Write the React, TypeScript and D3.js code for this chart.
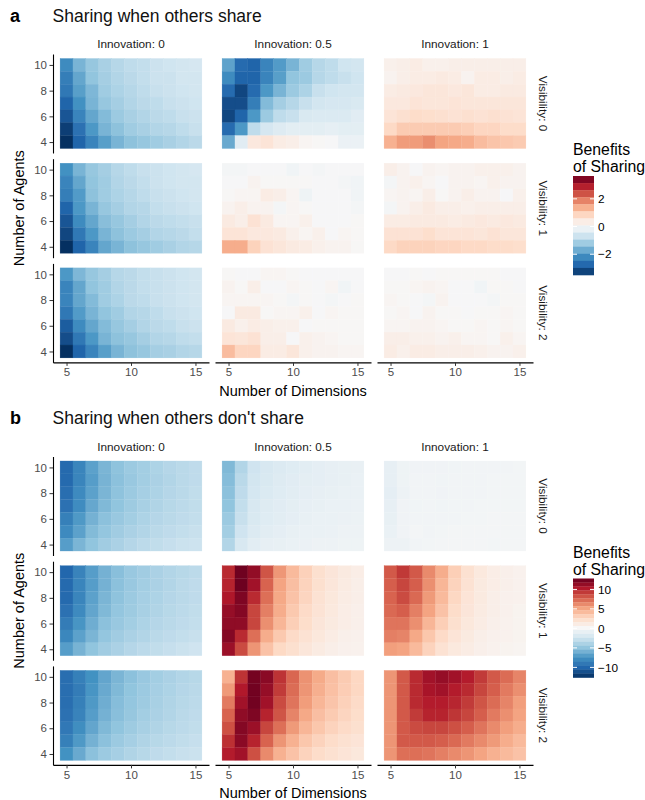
import * as d3 from 'd3';
import React, { useEffect, useRef } from 'react';

// grid of the heatmaps
const dimensions = [5, 6, 7, 8, 9, 10, 11, 12, 13, 14, 15];
const agents = [10, 9, 8, 7, 6, 5, 4]; // rows, top to bottom
const innovationLabels = ['Innovation: 0', 'Innovation: 0.5', 'Innovation: 1'];
const visibilityLabels = ['Visibility: 0', 'Visibility: 1', 'Visibility: 2'];
const xTicks = [5, 10, 15];
const yTicks = [4, 6, 8, 10];

// a) sharing when others share
const shareI0V0 = [
  [-2.2, -1.6, -1.3, -1.1, -0.95, -0.85, -0.8, -0.7, -0.65, -0.6, -0.55],
  [-2.4, -1.8, -1.35, -1.15, -1.0, -0.9, -0.8, -0.7, -0.7, -0.6, -0.6],
  [-2.5, -1.9, -1.55, -1.2, -1.05, -0.95, -0.85, -0.75, -0.7, -0.65, -0.6],
  [-2.8, -2.1, -1.6, -1.3, -1.15, -1.0, -0.9, -0.85, -0.75, -0.7, -0.65],
  [-3.0, -2.3, -1.8, -1.5, -1.25, -1.1, -1.0, -0.9, -0.85, -0.75, -0.7],
  [-3.3, -2.6, -2.0, -1.6, -1.4, -1.2, -1.1, -1.0, -0.95, -0.85, -0.75],
  [-3.6, -2.8, -2.3, -1.9, -1.6, -1.4, -1.3, -1.2, -1.1, -1.0, -0.9],
];
const shareI05V0 = [
  [-1.85, -2.7, -2.8, -2.3, -1.95, -1.6, -1.2, -0.95, -0.85, -0.65, -0.6],
  [-2.2, -2.8, -2.8, -2.3, -1.9, -1.35, -1.25, -0.95, -0.85, -0.75, -0.65],
  [-2.7, -3.2, -2.7, -2.0, -1.6, -1.25, -1.05, -0.75, -0.65, -0.6, -0.6],
  [-3.1, -3.1, -2.4, -1.5, -1.15, -0.95, -0.75, -0.6, -0.55, -0.55, -0.5],
  [-3.2, -2.8, -2.0, -1.25, -0.85, -0.75, -0.5, -0.45, -0.45, -0.45, -0.35],
  [-2.7, -2.0, -0.85, -0.55, -0.4, -0.3, -0.3, -0.3, -0.25, -0.3, -0.3],
  [-1.75, -0.35, 0.45, 0.55, 0.35, 0.3, 0.15, 0.1, 0.05, -0.15, -0.15],
];
const shareI1V0 = [
  [0.25, 0.3, 0.35, 0.25, 0.25, 0.3, 0.3, 0.3, 0.3, 0.3, 0.3],
  [0.2, 0.3, 0.35, 0.35, 0.4, 0.35, 0.2, 0.35, 0.35, 0.3, 0.35],
  [0.35, 0.4, 0.45, 0.5, 0.5, 0.45, 0.5, 0.35, 0.35, 0.4, 0.4],
  [0.45, 0.45, 0.55, 0.5, 0.5, 0.55, 0.5, 0.5, 0.5, 0.5, 0.5],
  [0.55, 0.65, 0.75, 0.7, 0.65, 0.6, 0.65, 0.6, 0.65, 0.6, 0.55],
  [0.8, 1.0, 1.0, 1.0, 1.0, 1.0, 0.95, 0.85, 0.85, 0.75, 0.75],
  [1.35, 1.6, 1.6, 1.75, 1.5, 1.45, 1.4, 1.2, 1.1, 1.05, 1.0],
];
const shareI0V1 = [
  [-2.1, -1.6, -1.3, -1.15, -0.95, -0.85, -0.75, -0.7, -0.65, -0.6, -0.55],
  [-2.3, -1.8, -1.35, -1.2, -1.0, -0.9, -0.8, -0.7, -0.65, -0.6, -0.6],
  [-2.4, -1.95, -1.4, -1.2, -1.05, -0.95, -0.85, -0.75, -0.7, -0.65, -0.6],
  [-2.8, -2.0, -1.6, -1.3, -1.15, -1.0, -0.95, -0.8, -0.75, -0.7, -0.65],
  [-3.0, -2.2, -1.8, -1.45, -1.3, -1.15, -1.0, -0.9, -0.85, -0.8, -0.75],
  [-3.2, -2.5, -2.0, -1.6, -1.4, -1.25, -1.15, -1.0, -0.95, -0.9, -0.8],
  [-3.6, -2.8, -2.3, -1.8, -1.6, -1.4, -1.3, -1.2, -1.1, -1.0, -0.95],
];
const shareI05V1 = [
  [0.0, 0.0, 0.05, 0.05, 0.05, -0.05, 0.05, 0.0, 0.05, 0.05, 0.05],
  [0.05, 0.05, 0.2, 0.1, 0.1, 0.1, 0.1, 0.05, 0.05, 0.0, -0.05],
  [0.1, 0.15, 0.15, 0.35, 0.3, 0.15, -0.1, 0.05, 0.05, 0.05, -0.05],
  [0.2, 0.3, 0.2, 0.2, 0.0, 0.15, 0.1, 0.05, 0.05, 0.05, 0.0],
  [0.4, 0.3, 0.6, 0.4, 0.15, 0.15, 0.25, 0.05, 0.05, 0.05, 0.1],
  [0.55, 0.55, 0.45, 0.45, 0.4, 0.25, 0.15, 0.25, 0.05, 0.15, 0.1],
  [1.4, 1.4, 0.9, 0.6, 0.5, 0.4, 0.35, 0.25, 0.2, 0.2, 0.1],
];
const shareI1V1 = [
  [0.3, 0.2, 0.05, 0.2, 0.15, 0.2, 0.2, 0.25, 0.25, 0.25, 0.2],
  [0.0, 0.2, 0.25, 0.15, 0.05, 0.2, 0.2, 0.15, 0.25, 0.2, 0.2],
  [0.15, 0.2, 0.15, 0.3, 0.1, 0.2, 0.3, 0.2, 0.2, 0.05, 0.25],
  [0.0, 0.2, 0.3, 0.4, 0.3, 0.3, 0.25, 0.3, 0.3, 0.3, 0.3],
  [0.35, 0.35, 0.4, 0.4, 0.4, 0.35, 0.4, 0.45, 0.4, 0.45, 0.4],
  [0.6, 0.6, 0.6, 0.7, 0.55, 0.55, 0.55, 0.5, 0.6, 0.5, 0.5],
  [0.8, 0.9, 0.9, 0.9, 0.85, 0.85, 0.8, 0.8, 0.75, 0.75, 0.7],
];
const shareI0V2 = [
  [-2.0, -1.55, -1.3, -1.15, -0.95, -0.9, -0.8, -0.75, -0.7, -0.65, -0.6],
  [-2.3, -1.8, -1.35, -1.2, -1.0, -0.9, -0.8, -0.75, -0.7, -0.65, -0.6],
  [-2.3, -1.8, -1.5, -1.2, -1.05, -0.9, -0.85, -0.75, -0.7, -0.65, -0.6],
  [-2.5, -1.95, -1.6, -1.35, -1.2, -1.0, -0.95, -0.85, -0.75, -0.7, -0.65],
  [-2.9, -2.2, -1.8, -1.5, -1.3, -1.15, -1.0, -0.9, -0.85, -0.75, -0.7],
  [-3.1, -2.5, -2.0, -1.6, -1.4, -1.3, -1.15, -1.0, -0.95, -0.85, -0.8],
  [-3.6, -2.8, -2.3, -1.9, -1.6, -1.4, -1.3, -1.15, -1.1, -1.0, -0.95],
];
const shareI05V2 = [
  [0.1, 0.05, 0.05, 0.15, 0.15, 0.1, 0.05, 0.05, 0.05, 0.05, 0.05],
  [0.2, 0.1, 0.3, 0.05, 0.05, 0.15, 0.1, 0.05, 0.15, -0.05, 0.05],
  [0.15, 0.15, 0.15, 0.15, 0.1, 0.0, 0.1, 0.05, 0.0, 0.05, 0.1],
  [0.05, 0.4, 0.4, 0.1, 0.15, 0.15, 0.25, 0.05, 0.15, 0.1, 0.1],
  [0.4, 0.25, 0.35, 0.3, 0.25, 0.25, 0.05, 0.1, 0.1, 0.1, 0.1],
  [0.55, 0.5, 0.6, 0.3, 0.3, 0.05, 0.25, 0.2, 0.15, 0.1, 0.1],
  [1.2, 0.85, 0.85, 0.35, 0.35, 0.5, 0.25, 0.2, 0.2, 0.15, 0.15],
];
const shareI1V2 = [
  [0.05, 0.05, 0.1, 0.05, 0.1, 0.1, 0.1, 0.1, 0.1, 0.05, 0.05],
  [0.1, 0.1, 0.15, 0.2, 0.15, 0.05, 0.05, -0.05, 0.1, 0.1, 0.05],
  [0.15, 0.1, 0.05, 0.0, 0.2, 0.05, 0.05, 0.05, 0.0, 0.1, 0.1],
  [0.1, 0.15, 0.05, 0.2, 0.1, 0.1, 0.05, 0.1, 0.1, 0.15, 0.1],
  [0.15, 0.15, 0.2, 0.2, 0.15, 0.1, 0.1, 0.15, 0.1, 0.15, 0.1],
  [0.3, 0.3, 0.25, 0.25, 0.2, 0.25, 0.15, 0.15, 0.1, 0.25, 0.15],
  [0.35, 0.25, 0.35, 0.35, 0.3, 0.3, 0.3, 0.25, 0.2, 0.2, 0.25],
];

// b) sharing when others don't share
const noShareI0V0 = [
  [-9.8, -8.3, -6.8, -5.8, -5.1, -4.6, -4.3, -3.9, -3.6, -3.4, -3.2],
  [-9.8, -8.3, -7.0, -5.9, -5.2, -4.7, -4.3, -4.0, -3.7, -3.4, -3.2],
  [-9.6, -8.0, -6.8, -5.8, -5.1, -4.6, -4.2, -3.9, -3.6, -3.4, -3.1],
  [-9.4, -7.9, -6.5, -5.6, -5.0, -4.5, -4.1, -3.8, -3.5, -3.3, -3.1],
  [-8.6, -7.2, -6.0, -5.2, -4.7, -4.3, -3.9, -3.6, -3.4, -3.2, -3.0],
  [-8.0, -6.8, -5.5, -4.9, -4.4, -4.0, -3.7, -3.4, -3.2, -3.0, -2.8],
  [-7.0, -5.8, -5.0, -4.4, -4.0, -3.6, -3.3, -3.1, -2.9, -2.7, -2.6],
];
const noShareI05V0 = [
  [-5.6, -3.7, -2.5, -2.0, -1.7, -1.5, -1.3, -1.1, -1.0, -0.9, -0.85],
  [-5.4, -3.4, -2.3, -1.9, -1.6, -1.4, -1.2, -1.1, -1.0, -0.9, -0.8],
  [-5.2, -3.2, -2.2, -1.8, -1.5, -1.3, -1.1, -1.0, -0.9, -0.8, -0.8],
  [-5.0, -3.0, -2.0, -1.6, -1.4, -1.2, -1.0, -0.9, -0.8, -0.75, -0.7],
  [-4.6, -2.8, -1.9, -1.5, -1.3, -1.1, -0.9, -0.8, -0.75, -0.7, -0.65],
  [-4.3, -2.5, -1.7, -1.3, -1.1, -0.9, -0.8, -0.75, -0.7, -0.6, -0.6],
  [-3.7, -2.0, -1.3, -1.0, -0.9, -0.8, -0.7, -0.6, -0.55, -0.5, -0.5],
];
const noShareI1V0 = [
  [-1.0, -0.5, -0.4, -0.4, -0.4, -0.35, -0.3, -0.3, -0.3, -0.3, -0.25],
  [-1.0, -0.5, -0.3, -0.3, -0.35, -0.3, -0.3, -0.3, -0.25, -0.25, -0.25],
  [-1.1, -0.6, -0.3, -0.3, -0.4, -0.3, -0.3, -0.3, -0.25, -0.25, -0.25],
  [-1.0, -0.4, -0.35, -0.3, -0.35, -0.3, -0.3, -0.25, -0.25, -0.25, -0.25],
  [-0.9, -0.4, -0.3, -0.3, -0.3, -0.3, -0.25, -0.25, -0.2, -0.2, -0.2],
  [-0.8, -0.4, -0.2, -0.3, -0.25, -0.2, -0.2, -0.2, -0.2, -0.2, -0.2],
  [-0.6, -0.6, -0.3, -0.25, -0.2, -0.2, -0.2, -0.2, -0.25, -0.2, -0.2],
];
const noShareI0V1 = [
  [-10.0, -8.4, -7.0, -6.0, -5.3, -4.7, -4.4, -4.0, -3.7, -3.5, -3.3],
  [-9.8, -8.3, -7.0, -6.0, -5.2, -4.7, -4.3, -4.0, -3.7, -3.4, -3.2],
  [-9.8, -8.3, -6.8, -5.8, -5.1, -4.6, -4.2, -3.9, -3.6, -3.4, -3.2],
  [-9.4, -8.0, -6.6, -5.6, -4.9, -4.5, -4.1, -3.8, -3.5, -3.3, -3.1],
  [-8.8, -7.4, -6.2, -5.2, -4.7, -4.3, -3.9, -3.6, -3.4, -3.2, -3.0],
  [-8.2, -6.8, -5.8, -4.9, -4.4, -4.0, -3.7, -3.4, -3.2, -3.0, -2.8],
  [-7.0, -5.9, -5.0, -4.4, -4.0, -3.6, -3.3, -3.1, -2.9, -2.7, -2.5],
];
const noShareI05V1 = [
  [9.8, 12.5, 11.3, 8.2, 5.7, 4.2, 3.1, 2.2, 1.7, 1.3, 1.0],
  [10.0, 12.6, 10.8, 7.6, 5.2, 4.0, 3.0, 2.2, 1.6, 1.2, 0.9],
  [10.4, 12.0, 9.8, 7.2, 5.0, 3.8, 2.9, 2.0, 1.5, 1.1, 0.9],
  [11.2, 11.8, 8.8, 6.6, 4.8, 3.5, 2.6, 1.9, 1.4, 1.0, 0.8],
  [11.4, 11.4, 8.8, 6.0, 4.4, 3.2, 2.4, 1.7, 1.3, 1.0, 0.8],
  [11.8, 9.8, 7.2, 4.8, 3.5, 2.6, 2.0, 1.5, 1.1, 0.8, 0.7],
  [11.0, 8.6, 5.8, 3.8, 2.7, 2.2, 1.6, 1.2, 0.9, 0.7, 0.6],
];
const noShareI1V1 = [
  [8.0, 9.3, 8.0, 6.2, 4.8, 3.2, 2.1, 1.4, 1.0, 0.8, 0.6],
  [7.8, 8.8, 7.8, 6.0, 4.4, 3.0, 2.0, 1.3, 1.0, 0.8, 0.6],
  [7.6, 8.6, 7.4, 5.6, 4.2, 2.8, 1.8, 1.3, 0.9, 0.7, 0.6],
  [7.4, 7.8, 6.6, 5.2, 3.8, 2.5, 1.7, 1.2, 0.9, 0.7, 0.5],
  [7.0, 7.0, 6.0, 4.4, 3.2, 2.2, 1.5, 1.1, 0.8, 0.6, 0.5],
  [6.6, 6.4, 5.0, 3.6, 2.6, 1.8, 1.3, 0.9, 0.7, 0.6, 0.5],
  [5.4, 5.2, 4.2, 3.0, 2.0, 1.4, 1.1, 0.8, 0.6, 0.5, 0.4],
];
const noShareI0V2 = [
  [-9.6, -8.6, -7.6, -6.6, -5.8, -5.2, -4.7, -4.3, -4.0, -3.7, -3.5],
  [-9.6, -8.8, -7.4, -6.4, -5.6, -5.0, -4.6, -4.2, -3.9, -3.6, -3.4],
  [-9.6, -8.6, -7.2, -6.2, -5.4, -4.9, -4.5, -4.1, -3.8, -3.5, -3.3],
  [-9.4, -8.4, -7.0, -6.0, -5.3, -4.8, -4.3, -4.0, -3.7, -3.4, -3.2],
  [-9.0, -7.8, -6.6, -5.6, -5.0, -4.5, -4.1, -3.8, -3.5, -3.3, -3.1],
  [-8.6, -7.2, -6.0, -5.2, -4.6, -4.2, -3.8, -3.5, -3.3, -3.1, -2.9],
  [-7.6, -6.4, -5.2, -4.6, -4.2, -3.8, -3.5, -3.2, -3.0, -2.8, -2.7],
];
const noShareI05V2 = [
  [4.6, 9.5, 12.3, 11.6, 9.5, 7.5, 5.9, 4.9, 4.0, 3.4, 2.8],
  [5.6, 10.3, 12.4, 11.2, 9.2, 7.3, 5.8, 4.7, 3.9, 3.3, 2.8],
  [6.8, 10.8, 12.4, 10.8, 8.6, 7.0, 5.5, 4.4, 3.7, 3.1, 2.6],
  [7.6, 11.4, 12.0, 10.0, 8.2, 6.4, 5.0, 4.0, 3.4, 2.9, 2.4],
  [8.4, 11.8, 11.0, 8.8, 7.2, 5.6, 4.4, 3.6, 3.0, 2.6, 2.2],
  [9.6, 11.6, 10.0, 7.6, 5.8, 4.6, 3.6, 3.0, 2.5, 2.1, 1.8],
  [10.2, 10.8, 8.4, 6.2, 4.6, 3.8, 3.0, 2.5, 2.1, 1.8, 1.5],
];
const noShareI1V2 = [
  [5.8, 8.0, 9.8, 10.8, 11.2, 10.8, 10.2, 9.2, 8.0, 7.3, 6.4],
  [5.8, 8.0, 9.8, 10.6, 10.8, 10.2, 9.8, 8.8, 7.8, 6.8, 6.0],
  [5.8, 8.0, 9.8, 10.2, 10.2, 9.9, 9.2, 8.2, 7.3, 6.4, 5.4],
  [5.8, 8.0, 9.2, 10.0, 10.0, 9.4, 8.8, 7.8, 6.8, 6.0, 5.2],
  [5.8, 8.0, 8.6, 8.8, 8.8, 8.4, 7.8, 7.0, 6.2, 5.4, 4.8],
  [5.8, 8.0, 8.0, 8.0, 7.8, 7.4, 6.8, 6.2, 5.6, 4.8, 4.2],
  [5.8, 7.2, 7.2, 7.0, 6.6, 6.2, 5.8, 5.2, 4.6, 4.2, 3.8],
];

const legendTicksA = [-2, 0, 2];
const legendTicksB = [-10, -5, 0, 5, 10];

const figures = [
  {
    letter: 'a', title: 'Sharing when others share', offset: 0,
    grid: [[shareI0V0, shareI05V0, shareI1V0], [shareI0V1, shareI05V1, shareI1V1], [shareI0V2, shareI05V2, shareI1V2]],
    limits: [-3.5, 3.65], legendTicks: legendTicksA, steps: 14,
  },
  {
    letter: 'b', title: "Sharing when others don't share", offset: 402.5,
    grid: [[noShareI0V0, noShareI05V0, noShareI1V0], [noShareI0V1, noShareI05V1, noShareI1V1], [noShareI0V2, noShareI05V2, noShareI1V2]],
    limits: [-12.6, 12.8], legendTicks: legendTicksB, steps: 25,
  },
];

const FONT = '"Liberation Sans", Arial, Helvetica, sans-serif';

export default function App() {
  const ref = useRef<SVGSVGElement>(null);

  useEffect(() => {
    const svg = d3.select(ref.current);
    svg.selectAll('*').remove();
    svg.style('font-family', FONT);

    const left = 53, panelW = 156, colStep = 162;
    const top = 54, panelH = 99, rowStep = 104.7;
    const fmt = (v: number) => (v < 0 ? '\u2212' + Math.abs(v) : String(v));

    figures.forEach(fig => {
      const [lo, hi] = fig.limits;
      const color = d3.scaleLinear<string>()
        .domain(d3.range(11).map(i => hi - (i * (hi - lo)) / 10))
        .range(d3.schemeRdBu[11])
        .interpolate(d3.interpolateLab)
        .clamp(true);

      const g = svg.append('g').attr('transform', `translate(0,${fig.offset})`);

      // label + title
      g.append('text').attr('x', 10).attr('y', 21.5)
        .style('font-size', '18px').style('font-weight', 'bold').text(fig.letter);
      g.append('text').attr('x', 52.5).attr('y', 21.7)
        .style('font-size', '17.5px').attr('fill', '#111').text(fig.title);

      fig.grid.forEach((row, r) => {
        row.forEach((values, c) => {
          const x0 = left + c * colStep;
          const y0 = top + r * rowStep;
          const x = d3.scaleLinear().domain([3.95, 16.05]).range([x0, x0 + panelW]);
          const y = d3.scaleLinear().domain([3.15, 10.85]).range([y0 + panelH, y0]);

          const cells = values.flatMap((vals, i) => vals.map((v, j) => ({ a: agents[i], d: dimensions[j], v })));
          g.append('g').selectAll('rect').data(cells).enter().append('rect')
            .attr('x', d => x(d.d - 0.5))
            .attr('y', d => y(d.a + 0.5))
            .attr('width', d => x(d.d + 0.5) - x(d.d - 0.5))
            .attr('height', d => y(d.a - 0.5) - y(d.a + 0.5))
            .attr('fill', d => color(d.v))
            .attr('stroke', d => color(d.v))
            .attr('stroke-width', 0.3);

          if (c === 0) {
            const ax = g.append('g').attr('transform', `translate(${x0},0)`)
              .call(d3.axisLeft(y).tickValues(yTicks).tickSize(3.5).tickSizeOuter(0).tickPadding(2.5));
            ax.select('.domain').attr('stroke', '#000').attr('stroke-width', 1.1);
            ax.selectAll('.tick line').attr('stroke', '#333');
            ax.selectAll('.tick text').attr('fill', '#4d4d4d').style('font-size', '11.5px').style('font-family', FONT);
          }
          if (r === 2) {
            const ax = g.append('g').attr('transform', `translate(0,${y0 + panelH})`)
              .call(d3.axisBottom(x).tickValues(xTicks).tickSize(3.5).tickSizeOuter(0).tickPadding(2));
            ax.select('.domain').attr('stroke', '#000').attr('stroke-width', 1.1);
            ax.selectAll('.tick line').attr('stroke', '#333');
            ax.selectAll('.tick text').attr('fill', '#4d4d4d').style('font-size', '11.5px').style('font-family', FONT);
          }
          if (r === 0) {
            g.append('text').attr('x', x0 + panelW / 2).attr('y', y0 - 6)
              .attr('text-anchor', 'middle').attr('fill', '#1a1a1a').style('font-size', '11.8px')
              .text(innovationLabels[c]);
          }
          if (c === 2) {
            g.append('text')
              .attr('transform', `translate(${x0 + panelW + 5},${y0 + panelH / 2}) rotate(90)`)
              .attr('text-anchor', 'middle').attr('dy', '-0.1em').attr('fill', '#1a1a1a').style('font-size', '11.8px')
              .text(visibilityLabels[r]);
          }
        });
      });

      // axis titles
      const bottom = top + 2 * rowStep + panelH;
      g.append('text').attr('x', left + (2 * colStep + panelW) / 2).attr('y', bottom + 33.5)
        .attr('text-anchor', 'middle').style('font-size', '14.5px').text('Number of Dimensions');
      g.append('text').attr('transform', `translate(24,${(top + bottom) / 2}) rotate(-90)`)
        .attr('text-anchor', 'middle').style('font-size', '14.5px').text('Number of Agents');

      // legend
      const lx = 573, ly = 176, lw = 21, lh = 99;
      g.append('text').attr('x', lx).attr('y', 155).style('font-size', '15.8px').text('Benefits');
      g.append('text').attr('x', lx).attr('y', 172).style('font-size', '15.8px').text('of Sharing');
      const ls = d3.scaleLinear().domain([hi, lo]).range([ly, ly + lh]);
      const stepH = lh / fig.steps;
      g.append('g').selectAll('rect').data(d3.range(fig.steps)).enter().append('rect')
        .attr('x', lx).attr('y', i => ly + i * stepH)
        .attr('width', lw).attr('height', stepH + 0.3)
        .attr('fill', i => color(ls.invert(ly + (i + 0.5) * stepH)));
      fig.legendTicks.forEach(t => {
        const ty = ls(t);
        g.append('line').attr('x1', lx).attr('x2', lx + 4).attr('y1', ty).attr('y2', ty).attr('stroke', '#fff').attr('stroke-width', 1);
        g.append('line').attr('x1', lx + lw - 4).attr('x2', lx + lw).attr('y1', ty).attr('y2', ty).attr('stroke', '#fff').attr('stroke-width', 1);
        g.append('text').attr('x', lx + lw + 4).attr('y', ty).attr('dy', '0.36em')
          .style('font-size', '11.8px').text(fmt(t));
      });
    });
  }, []);

  return (
    <svg ref={ref} width={645} height={800}
      style={{ position: 'absolute', left: 0, top: 0, background: '#fff' }} />
  );
}
